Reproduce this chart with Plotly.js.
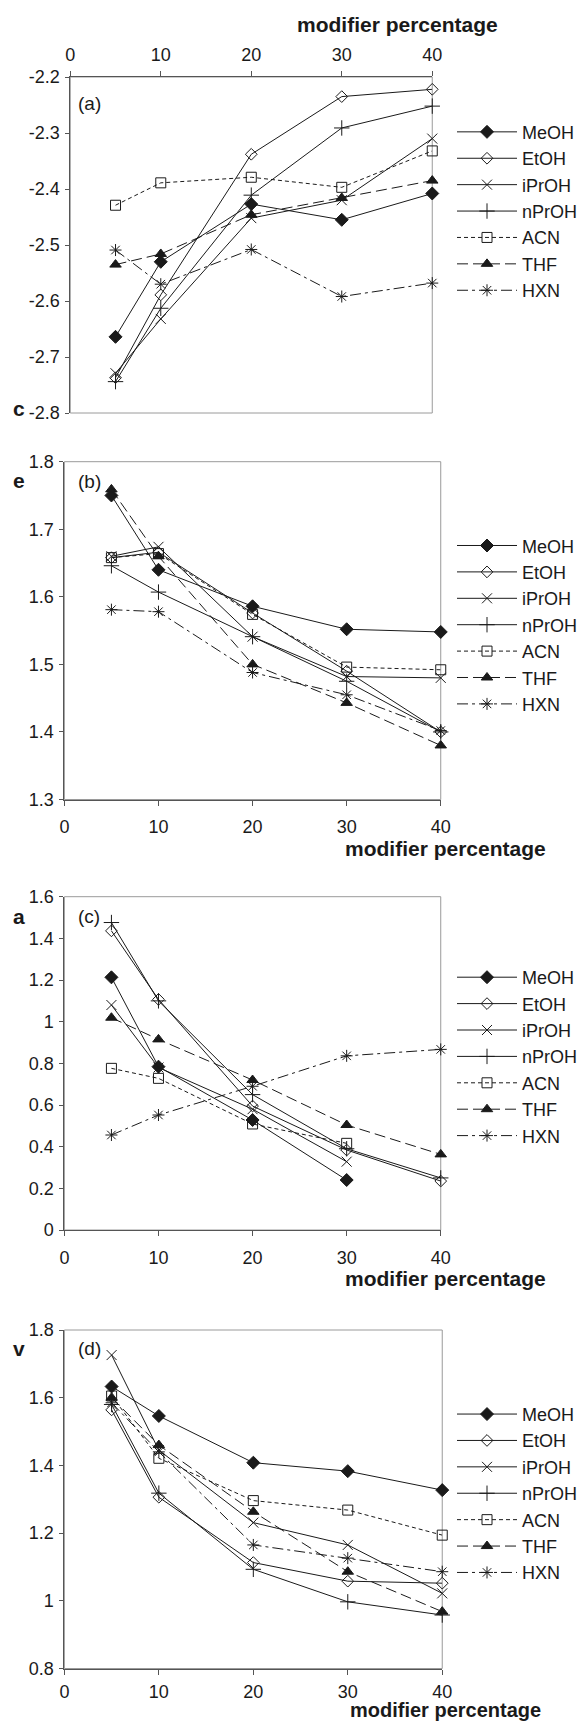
<!DOCTYPE html>
<html>
<head>
<meta charset="utf-8">
<script src="https://cdn.plot.ly/plotly-3.0.1.min.js"></script>
<style>html,body{margin:0;padding:0;background:#fff;}#chart{width:583px;height:1723px;}</style>
</head>
<body>
<div id="chart"></div>
<script>
// ---- data ----
const modifierPct = [5, 10, 20, 30, 40];
const seriesNames = ['MeOH', 'EtOH', 'iPrOH', 'nPrOH', 'ACN', 'THF', 'HXN'];

// panel (a): c
const panelA = [
  [-2.664, -2.530, -2.427, -2.455, -2.408],
  [-2.737, -2.589, -2.338, -2.235, -2.222],
  [-2.729, -2.632, -2.452, -2.420, -2.310],
  [-2.744, -2.613, -2.411, -2.291, -2.252],
  [-2.429, -2.389, -2.379, -2.397, -2.332],
  [-2.535, -2.516, -2.446, -2.416, -2.385],
  [-2.509, -2.570, -2.508, -2.592, -2.568]
];
// panel (b): e
const panelB = [
  [1.750, 1.640, 1.586, 1.552, 1.548],
  [1.658, 1.666, 1.576, 1.490, 1.400],
  [1.660, 1.674, 1.541, 1.482, 1.480],
  [1.646, 1.607, 1.541, 1.475, 1.400],
  [1.658, 1.664, 1.574, 1.496, 1.492],
  [1.759, 1.660, 1.500, 1.443, 1.380],
  [1.581, 1.578, 1.488, 1.455, 1.402]
];
// panel (c): a
const panelC = [
  [1.213, 0.784, 0.528, 0.240, null],
  [1.436, 1.107, 0.595, 0.384, 0.235],
  [1.080, 0.780, 0.580, 0.328, null],
  [1.476, 1.100, 0.650, 0.390, 0.250],
  [0.776, 0.728, 0.509, 0.416, null],
  [1.019, 0.915, 0.720, 0.504, 0.363],
  [0.456, 0.552, 0.690, 0.836, 0.867]
];
// panel (d): v
const panelD = [
  [1.633, 1.546, 1.408, 1.383, 1.327],
  [1.564, 1.306, 1.113, 1.058, 1.052],
  [1.726, 1.445, 1.231, 1.165, 1.022],
  [1.580, 1.318, 1.093, 0.997, 0.958],
  [1.605, 1.421, 1.296, 1.268, 1.194],
  [1.600, 1.460, 1.263, 1.086, 0.968],
  [1.585, 1.440, 1.165, 1.126, 1.086]
];

const xTicks = [0, 10, 20, 30, 40];
const yTicksA = [-2.8, -2.7, -2.6, -2.5, -2.4, -2.3, -2.2];
const yTickTextA = ['-2.8', '-2.7', '-2.6', '-2.5', '-2.4', '-2.3', '-2.2'];
const yTicksB = [1.3, 1.4, 1.5, 1.6, 1.7, 1.8];
const yTicksC = [0, 0.2, 0.4, 0.6, 0.8, 1, 1.2, 1.4, 1.6];
const yTicksD = [0.8, 1, 1.2, 1.4, 1.6, 1.8];
const panelTags = ['(a)', '(b)', '(c)', '(d)'];
const yLetters = ['c', 'e', 'a', 'v'];
const xTitle = 'modifier percentage';

// ---- styles ----
const FONT = 'Liberation Sans, Arial, Helvetica, sans-serif';
const INK = '#1a1a1a';
const styles = {
  MeOH:  {symbol: 'diamond',         size: 10, dash: 'solid'},
  EtOH:  {symbol: 'diamond-open',    size: 9,  dash: 'solid'},
  iPrOH: {symbol: 'x-thin-open',     size: 10, dash: 'solid'},
  nPrOH: {symbol: 'cross-thin-open', size: 11, dash: 'solid'},
  ACN:   {symbol: 'square-open',     size: 10, dash: '4px,3px'},
  THF:   {symbol: 'triangle-up',     size: 10, dash: '11px,5px'},
  HXN:   {symbol: 'asterisk-open',   size: 10, dash: '11px,4px,3px,4px'}
};

const W = 583, H = 1723;
const px = v => v / W;
const py = v => 1 - v / H;

const panels = [panelA, panelB, panelC, panelD];
const axisIds = [['x', 'y'], ['x2', 'y2'], ['x3', 'y3'], ['x4', 'y4']];
const legendIds = ['legend', 'legend2', 'legend3', 'legend4'];

const traces = [];
panels.forEach((pdata, p) => {
  pdata.forEach((vals, i) => {
    const name = seriesNames[i];
    const st = styles[name];
    traces.push({
      type: 'scatter', mode: 'lines+markers',
      x: modifierPct, y: vals, name: name,
      xaxis: axisIds[p][0], yaxis: axisIds[p][1],
      legend: legendIds[p],
      connectgaps: false,
      cliponaxis: false,
      line: {color: INK, width: 1, dash: st.dash},
      marker: {symbol: st.symbol, size: st.size, color: INK,
               line: {color: INK, width: 1}}
    });
  });
});

// pixel geometry of each plot area: [left, right, top, bottom]
const boxes = [
  [70.4, 433, 77, 413],
  [64.5, 441.5, 461.7, 799.5],
  [64.5, 441.5, 896.7, 1230],
  [64.5, 443, 1330, 1668.5]
];
const yRanges = [[-2.8, -2.2], [1.3, 1.8], [0, 1.6], [0.8, 1.8]];
const yTickSets = [yTicksA, yTicksB, yTicksC, yTicksD];
const xStandoffs = [3, 6, 6, 2];

const tickFont = {family: FONT, size: 18, color: INK};

const layout = {
  width: W, height: H,
  margin: {l: 0, r: 0, t: 0, b: 0},
  paper_bgcolor: '#fff', plot_bgcolor: '#fff',
  font: {family: FONT, color: INK},
  showlegend: true,
  shapes: [], annotations: []
};

boxes.forEach((b, p) => {
  const xn = p === 0 ? 'xaxis' : 'xaxis' + (p + 1);
  const yn = p === 0 ? 'yaxis' : 'yaxis' + (p + 1);
  const xa = axisIds[p][0], ya = axisIds[p][1];
  layout[xn] = {
    domain: [px(b[0]), px(b[1])], anchor: ya,
    range: [0, 40], tickvals: xTicks, side: p === 0 ? 'top' : 'bottom',
    showline: true, linecolor: '#555', linewidth: 1,
    ticks: 'outside', ticklen: 5, tickcolor: '#555',
    showgrid: false, zeroline: false, tickfont: tickFont,
    ticklabelstandoff: xStandoffs[p], fixedrange: true
  };
  const yax = {
    domain: [py(b[3]), py(b[2])], anchor: xa,
    range: yRanges[p], tickvals: yTickSets[p],
    showline: true, linecolor: '#555', linewidth: 1,
    ticks: 'outside', ticklen: 4, tickcolor: '#555',
    showgrid: false, zeroline: false, tickfont: tickFont,
    ticklabelstandoff: 2, fixedrange: true
  };
  if (p === 0) yax.ticktext = yTickTextA;
  layout[yn] = yax;

  // light grey plot-area frame
  layout.shapes.push({
    type: 'rect', xref: xa + ' domain', yref: ya + ' domain',
    x0: 0, x1: 1, y0: 0, y1: 1, layer: 'below',
    line: {color: '#9a9a9a', width: 1}
  });

  // legend
  const legendTops = [134, 547.3, 979, 1415];
  const legendBottoms = [288.3, 702.3, 1134, 1571.7];
  layout[legendIds[p]] = {
    x: px(453), xanchor: 'left',
    y: py((legendTops[p] + legendBottoms[p]) / 2), yanchor: 'middle',
    bgcolor: 'rgba(0,0,0,0)', borderwidth: 0,
    itemwidth: 60,
    font: {family: FONT, size: 18, color: INK},
    traceorder: 'normal', itemclick: false, itemdoubleclick: false
  };

  // panel tag
  const tagY = [103.7, 481.7, 916, 1348];
  layout.annotations.push({
    xref: 'paper', yref: 'paper', x: px(76), y: py(tagY[p]),
    xanchor: 'left', yanchor: 'middle', showarrow: false,
    text: panelTags[p], font: {family: FONT, size: 19, color: INK}
  });
  // y letter
  const letterY = [408, 480.7, 916, 1348];
  layout.annotations.push({
    xref: 'paper', yref: 'paper', x: px(19), y: py(letterY[p]),
    xanchor: 'center', yanchor: 'middle', showarrow: false,
    text: '<b>' + yLetters[p] + '</b>', font: {family: FONT, size: 21, color: INK}
  });
  // x title
  const titleX = [398, 446.5, 446.5, 446.5];
  const titleY = [24, 848, 1278, 1710];
  const titleSize = [21, 21, 21, 20];
  layout.annotations.push({
    xref: 'paper', yref: 'paper', x: px(titleX[p]), y: py(titleY[p]),
    xanchor: 'center', yanchor: 'middle', showarrow: false,
    text: '<b>' + xTitle + '</b>', font: {family: FONT, size: titleSize[p], color: INK}
  });
});

Plotly.newPlot('chart', traces, layout, {displayModeBar: false, staticPlot: true});
</script>
</body>
</html>
